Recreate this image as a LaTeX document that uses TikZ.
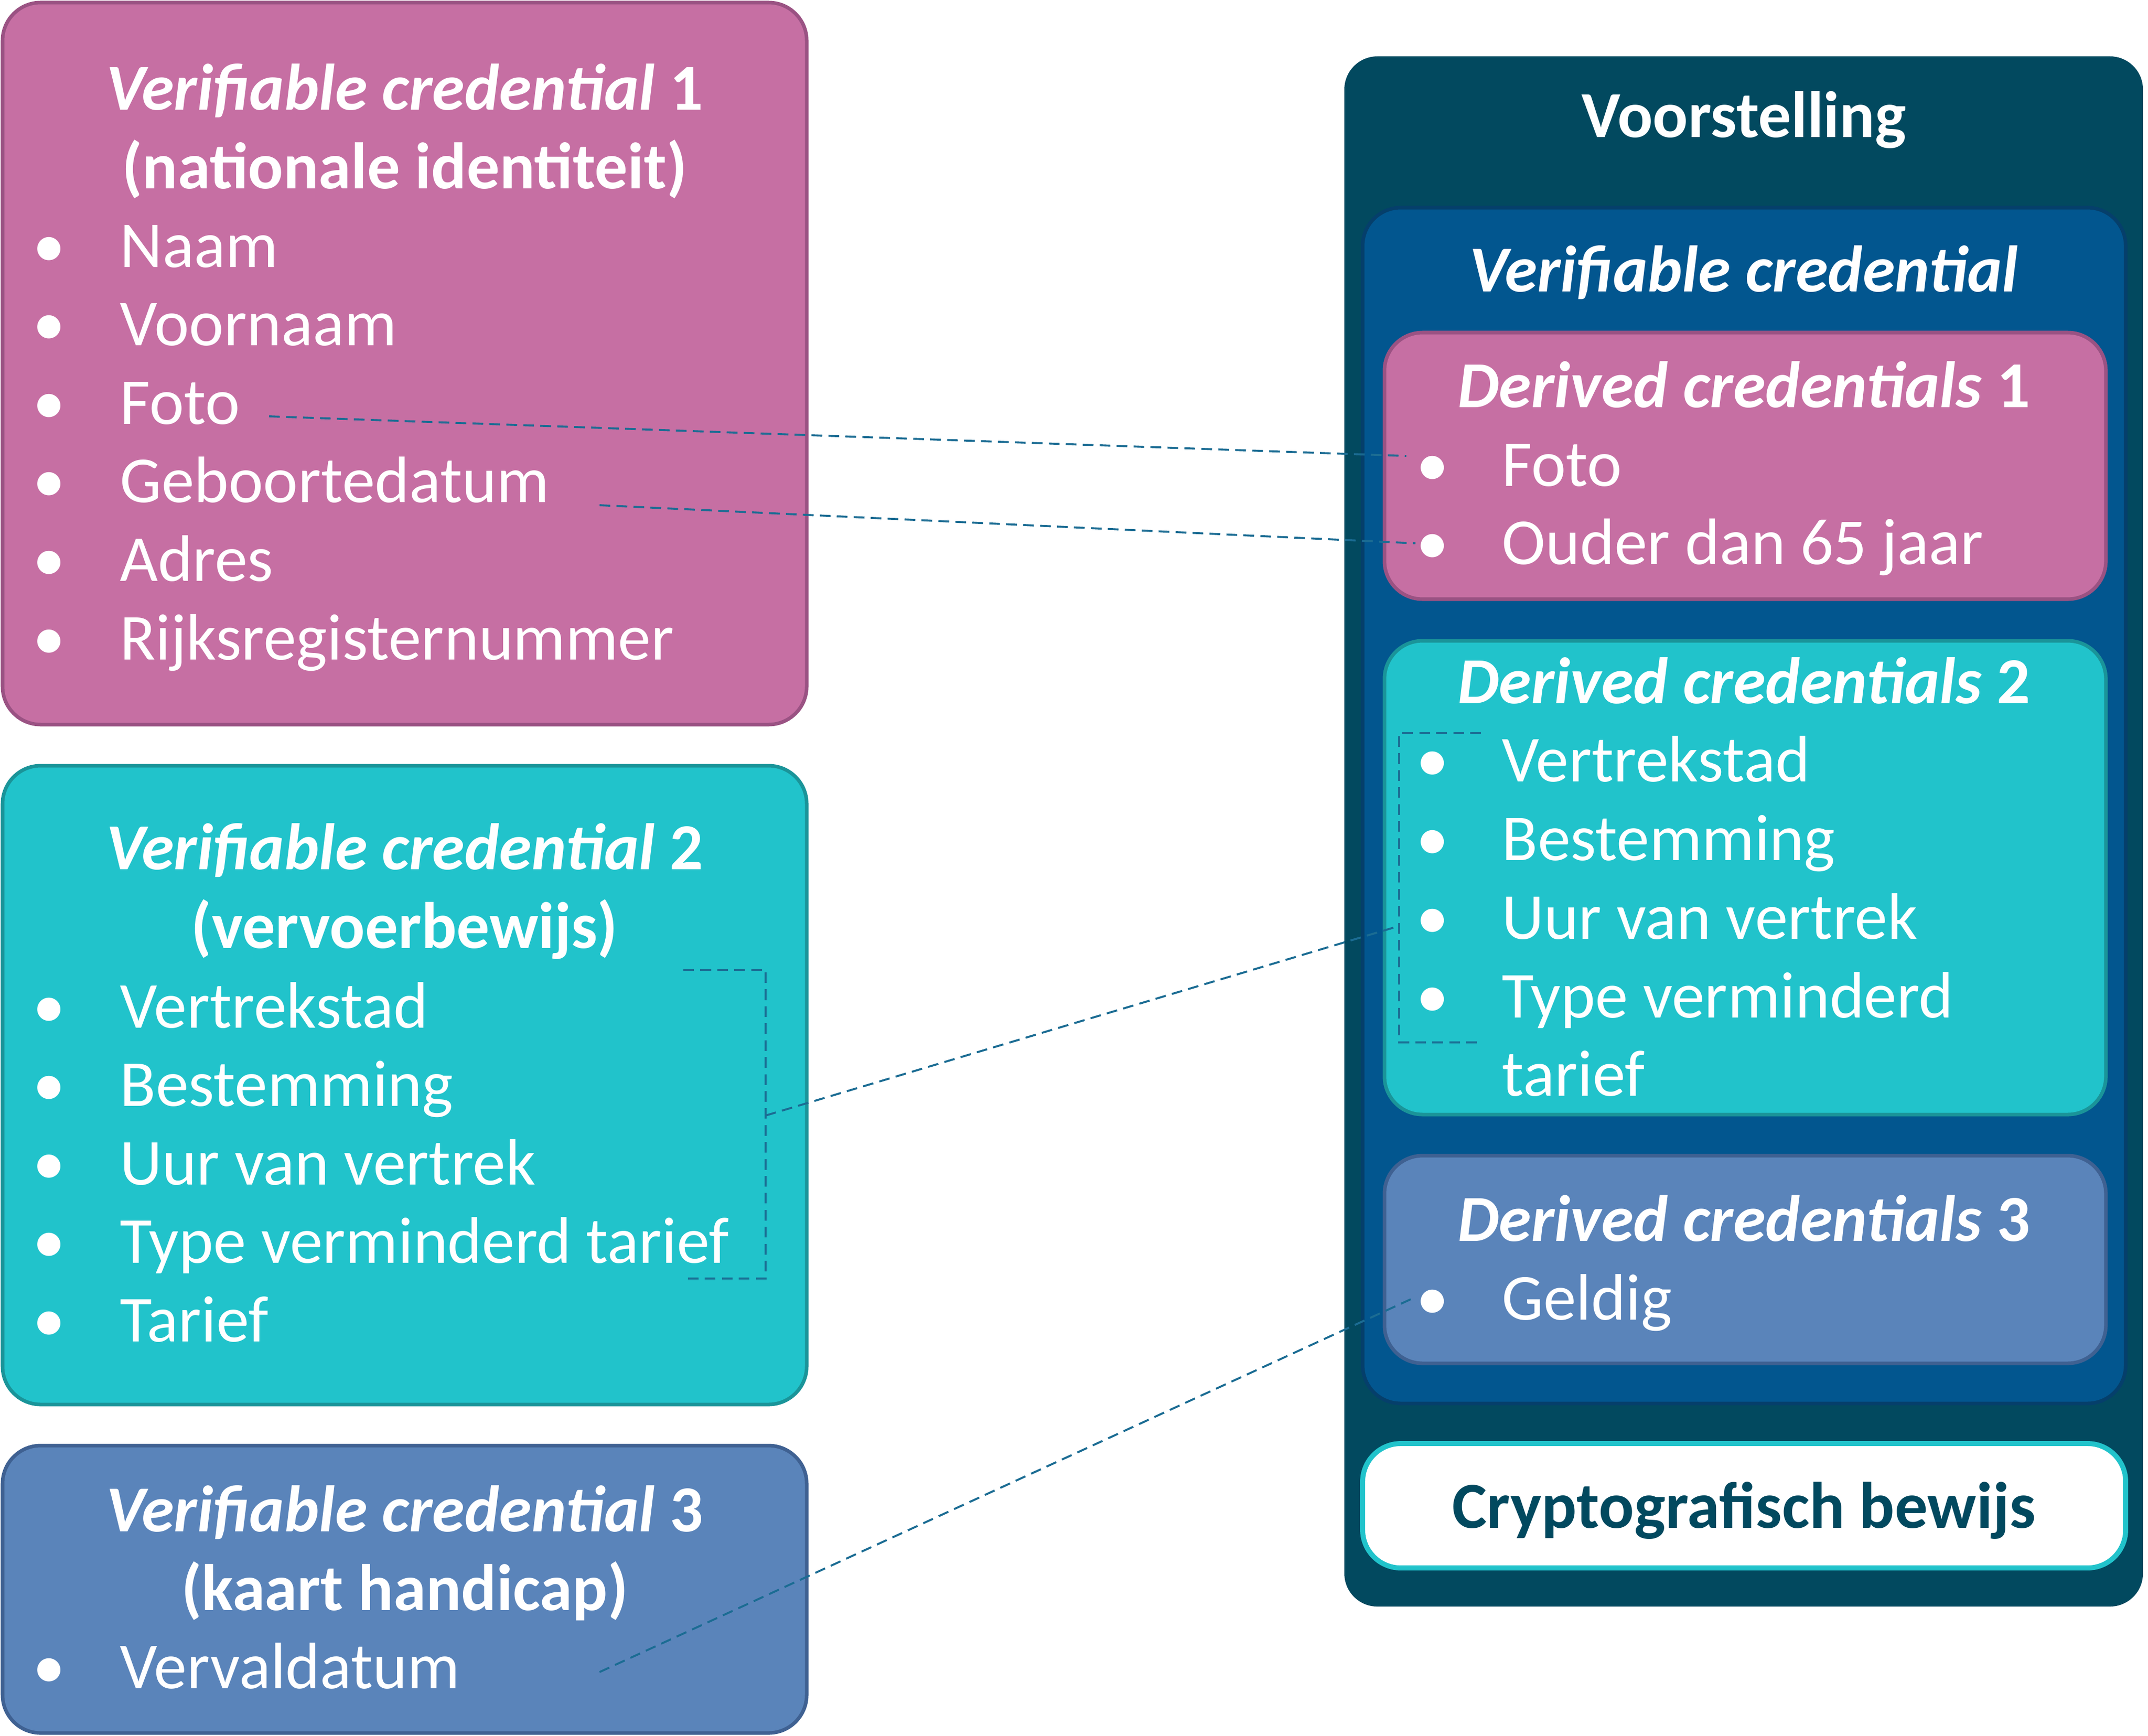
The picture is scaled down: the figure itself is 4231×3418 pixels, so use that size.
\documentclass[tikz,border=0pt]{standalone}
\usepackage{fontspec}
\setmainfont{Carlito}
\usetikzlibrary{fit}
\definecolor{pinkfill}{HTML}{C66FA3}\definecolor{pinkline}{HTML}{9A5283}
\definecolor{tealfill}{HTML}{21C3CB}\definecolor{tealline}{HTML}{1A9499}
\definecolor{slatefill}{HTML}{5A84BA}\definecolor{slateline}{HTML}{3F6192}
\definecolor{outerc}{HTML}{02495F}\definecolor{vcfill}{HTML}{02568F}\definecolor{vcline}{HTML}{053F6B}
\definecolor{linkc}{HTML}{1B6C93}
\tikzset{
  box/.style={rectangle,rounded corners=0.75cm,inner sep=0pt,line width=2pt},
  txt/.style={text=white,inner sep=0pt,font=\fontsize{36.8}{45}\selectfont},
  ttl/.style={txt,anchor=base,font=\fontsize{36.8}{45}\selectfont\bfseries},
  item/.style={txt,anchor=base west},
  dot/.style={txt,anchor=base},
  link/.style={draw=linkc,line width=1.1pt,dash pattern=on 6pt off 3.5pt}
}
\begin{document}
\begin{tikzpicture}[x=0.01cm,y=-0.01cm]
\useasboundingbox (0,0) rectangle (4231,3418);
% left: the three verifiable credentials
\node[box,draw=pinkline,fill=pinkfill,fit={(5,5)(1589,1427)}](vc1){};
\node[ttl](vc1t) at (797,216){\textit{Verifiable credential} 1};
\node[ttl](vc1s) at (797,371){(nationale identiteit)};
\foreach \t [count=\i from 0] in {Naam,Voornaam,Foto,Geboortedatum,Adres,Rijksregisternummer}{
  \node[dot](vc1d\i) at (97,{526+154.6*\i}){•};
  \node[item](vc1i\i) at (236,{526+154.6*\i}){\t};}
\node[box,draw=tealline,fill=tealfill,fit={(5,1508)(1589,2766)}](vc2){};
\node[ttl](vc2t) at (797,1712){\textit{Verifiable credential} 2};
\node[ttl](vc2s) at (797,1867){(vervoerbewijs)};
\foreach \t [count=\i from 0] in {Vertrekstad,Bestemming,Uur van vertrek,Type verminderd tarief,Tarief}{
  \node[dot](vc2d\i) at (97,{2024+154.5*\i}){•};
  \node[item](vc2i\i) at (236,{2024+154.5*\i}){\t};}
\node[box,draw=slateline,fill=slatefill,fit={(5,2847)(1589,3413)}](vc3){};
\node[ttl](vc3t) at (797,3016){\textit{Verifiable credential} 3};
\node[ttl](vc3s) at (797,3171){(kaart handicap)};
\node[dot](vc3d0) at (97,3325){•};
\node[item](vc3i0) at (236,3325){Vervaldatum};
% right: the presentation
\node[box,fill=outerc,rounded corners=0.65cm,fit={(2648,111)(4221,3164)}](pres){};
\node[ttl](prest) at (3435,270){Voorstelling};
\node[box,draw=vcline,fill=vcfill,fit={(2684,409)(4187,2764)}](vc){};
\node[ttl](vct) at (3435,574){\textit{Verifiable credential}};
\node[box,draw=pinkline,fill=pinkfill,fit={(2727,655)(4148,1180)}](dc1){};
\node[ttl](dc1t) at (3435,802){\textit{Derived credentials} 1};
\foreach \t [count=\i from 0] in {Foto,Ouder dan 65 jaar}{
  \node[dot](dc1d\i) at (2822,{957+154*\i}){•};
  \node[item](dc1i\i) at (2958,{957+154*\i}){\t};}
\node[box,draw=tealline,fill=tealfill,fit={(2727,1262)(4148,2195)}](dc2){};
\node[ttl](dc2t) at (3435,1385){\textit{Derived credentials} 2};
\foreach \t [count=\i from 0] in {Vertrekstad,Bestemming,Uur van vertrek,Type verminderd}{
  \node[dot](dc2d\i) at (2822,{1539+155*\i}){•};
  \node[item](dc2i\i) at (2958,{1539+155*\i}){\t};}
\node[item](dc2i4) at (2958,2158){tarief};
\node[box,draw=slateline,fill=slatefill,fit={(2727,2276)(4148,2685)}](dc3){};
\node[ttl](dc3t) at (3435,2444){\textit{Derived credentials} 3};
\node[dot](dc3d0) at (2822,2599){•};
\node[item](dc3i0) at (2958,2599){Geldig};
\node[box,draw=tealfill,fill=white,line width=2.8pt,fit={(2684,2843)(4187,3088)}](proof){};
\node[ttl,text=outerc](prooft) at (3435,3009){Cryptografisch bewijs};
% dashed links
\coordinate (fotoA) at (530,820);\coordinate (fotoB) at (2770,898);
\coordinate (gebA) at (1181,995);\coordinate (gebB) at (2788,1070);
\coordinate (vervA) at (1181,3293);\coordinate (vervB) at (2787,2555);
\coordinate (trA) at (1508,2197);\coordinate (trB) at (2748,1826);
\draw[link](fotoA)--(fotoB);
\draw[link](gebA)--(gebB);
\draw[link](vervA)--(vervB);
\draw[link](1346,1910)--(1508,1910)--(1508,2518)--(1346,2518);
\draw[link](2917,1444)--(2756,1444)--(2756,2053)--(2917,2053);
\draw[link](trA)--(trB);
\end{tikzpicture}
\end{document}
